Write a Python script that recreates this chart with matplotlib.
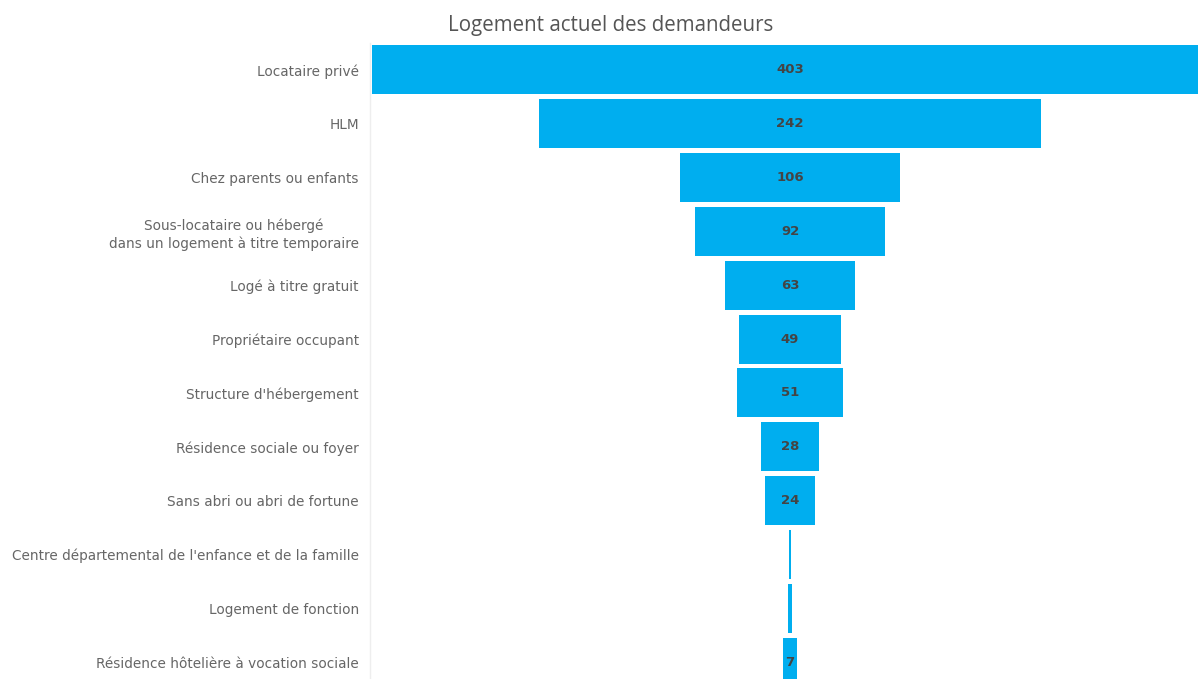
import matplotlib.pyplot as plt

# Data
categories = [
    "Locataire privé",
    "HLM",
    "Chez parents ou enfants",
    "Sous-locataire ou hébergé\ndans un logement à titre temporaire",
    "Logé à titre gratuit",
    "Propriétaire occupant",
    "Structure d'hébergement",
    "Résidence sociale ou foyer",
    "Sans abri ou abri de fortune",
    "Centre départemental de l'enfance et de la famille",
    "Logement de fonction",
    "Résidence hôtelière à vocation sociale",
]
values = [403, 242, 106, 92, 63, 49, 51, 28, 24, 1, 2, 7]

bar_color = "#00AEEF"
text_color = "#444444"

fig = plt.figure(figsize=(11.98, 6.79), dpi=100)
# plot area runs a little past the right and bottom edges of the canvas
ax = fig.add_axes([370 / 1198, -10 / 679, 840 / 1198, 646 / 679])

# funnel: bars centred on zero
ypos = list(range(len(values)))
lefts = [-v / 2 for v in values]
ax.barh(ypos, values, left=lefts, height=0.91, color=bar_color, edgecolor="none")

for y, v in zip(ypos, values):
    if v >= 5:
        ax.text(0, y, str(v), ha="center", va="center", fontsize=9.5,
                fontweight="bold", color=text_color, family="DejaVu Sans")

ax.set_xlim(-202.5, 202.5)
ax.set_ylim(len(values) - 0.5, -0.5)
ax.set_yticks(ypos)
ax.set_yticklabels(categories, fontsize=9.8, color="#666666", family="DejaVu Sans",
                   multialignment="center", linespacing=1.3)
ax.tick_params(axis="y", length=0, pad=8)
ax.set_xticks([])

for side in ["top", "right", "bottom"]:
    ax.spines[side].set_visible(False)
ax.spines["left"].set_color("#eeeeee")
ax.spines["left"].set_linewidth(1)

fig.text(611 / 1198, 1 - 26 / 679, "Logement actuel des demandeurs", ha="center",
         va="center", fontsize=14.8, color="#555555", family="Open Sans")

fig.savefig("out.png", dpi=100)
